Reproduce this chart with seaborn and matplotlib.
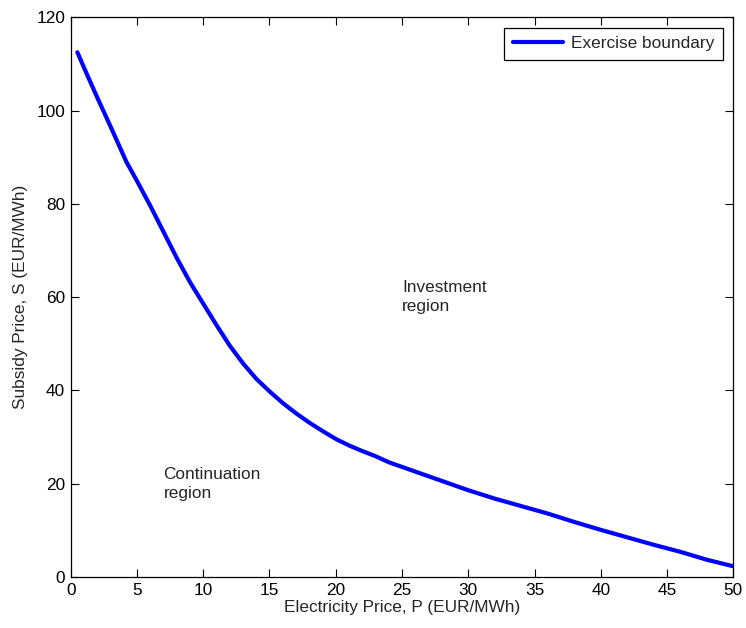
import matplotlib
matplotlib.use("Agg")
import matplotlib.pyplot as plt
import seaborn as sns
import pandas as pd

# Data
electricity_price = [0.5, 1, 2, 3, 4.2, 5, 6, 7, 8, 9, 10, 11, 12, 13, 14, 15, 16, 17, 18, 19,
                     20, 21, 22, 23, 24, 25, 26, 27, 28, 29, 30, 32, 34, 36, 38, 40, 42, 44,
                     46, 48, 50]
subsidy_price = [112.5, 109.2, 102.8, 96.6, 89.0, 84.9, 79.6, 74.0, 68.4, 63.2, 58.6, 54.0,
                 49.6, 45.8, 42.5, 39.8, 37.3, 35.1, 33.1, 31.3, 29.6, 28.2, 27.0, 25.9,
                 24.6, 23.6, 22.6, 21.6, 20.6, 19.6, 18.6, 16.8, 15.2, 13.6, 11.8, 10.1,
                 8.5, 6.9, 5.4, 3.7, 2.3]
x_ticks = [0, 5, 10, 15, 20, 25, 30, 35, 40, 45, 50]
y_ticks = [0, 20, 40, 60, 80, 100, 120]

df = pd.DataFrame({"P": electricity_price, "S": subsidy_price})

sns.set_style("ticks")
plt.rcParams["font.family"] = ["Liberation Sans", "DejaVu Sans"]
plt.rcParams["font.size"] = 12.4

fig = plt.figure(figsize=(7.46, 6.28), dpi=100)
ax = fig.add_axes([0.0948, 0.0812, 0.8882, 0.8913])

sns.lineplot(data=df, x="P", y="S", ax=ax, color=(0, 0, 1), linewidth=3,
             label="Exercise boundary", sort=False)

ax.set_xlim(0, 50)
ax.set_ylim(0, 120)
ax.set_xticks(x_ticks)
ax.set_yticks(y_ticks)
ax.tick_params(direction="in", length=6, width=0.8, top=True, right=True,
               labelsize=12.4, colors="black", pad=4)
for s in ax.spines.values():
    s.set_visible(True)
    s.set_linewidth(0.9)
    s.set_color("black")

ax.set_xlabel("Electricity Price, P (EUR/MWh)", fontsize=12.4, labelpad=2)
ax.set_ylabel("Subsidy Price, S (EUR/MWh)", fontsize=12.4, labelpad=6)

ax.text(25, 60, "Investment\nregion", fontsize=12.4, va="center", ha="left",
        linespacing=1.3)
ax.text(7, 20, "Continuation\nregion", fontsize=12.4, va="center", ha="left",
        linespacing=1.3)

leg = ax.legend(loc="upper right", frameon=True, fancybox=False, framealpha=1,
                edgecolor="black", fontsize=12.4, handlelength=2.9,
                borderaxespad=0.6, borderpad=0.5, handletextpad=0.5)
leg.get_frame().set_linewidth(0.9)

fig.savefig("out.png", dpi=100)
